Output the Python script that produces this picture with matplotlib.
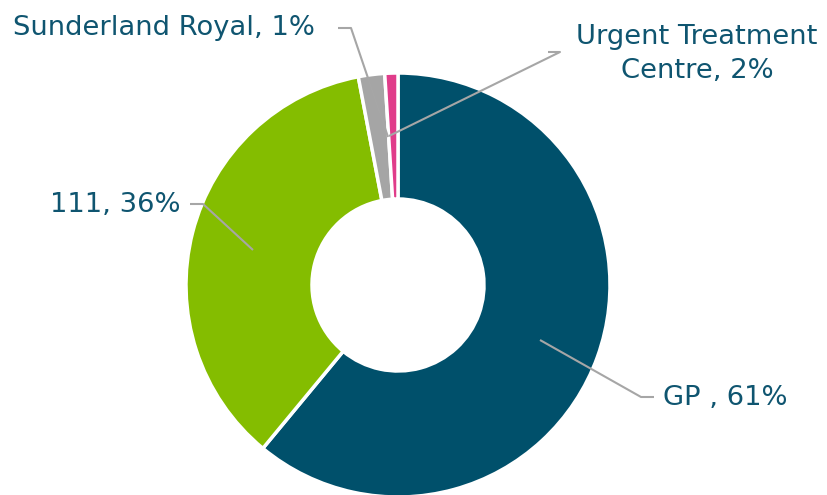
import matplotlib
matplotlib.use('Agg')
import matplotlib.pyplot as plt

labels = ['GP ', '111', 'Urgent Treatment\nCentre', 'Sunderland Royal']
values = [61, 36, 2, 1]
colors = ['#00506B', '#84BD00', '#A5A5A5', '#E03C8A']

text_color = '#0F5570'
line_color = '#A6A6A6'

W, H = 828, 495

fig = plt.figure(figsize=(W / 100, H / 100), dpi=100)
ax = fig.add_axes([0, 0, 1, 1])

# donut, centre given in pixel coords (y measured from bottom)
cx, cy, r, r_in = 398, H - 285, 212, 86
ax.pie(values, colors=colors, startangle=90, counterclock=False,
       center=(cx, cy), radius=r, frame=True,
       wedgeprops=dict(width=r - r_in, edgecolor='white', linewidth=2.5))
ax.set_xlim(0, W)
ax.set_ylim(0, H)
ax.set_aspect('equal')
ax.axis('off')


def leader(points):
    xs = [p[0] for p in points]
    ys = [H - p[1] for p in points]
    ax.plot(xs, ys, color=line_color, lw=1.5, solid_capstyle='butt')


fs = 19.7
pct = [f'{v}%' for v in values]

ax.text(663, H - 398, f'{labels[0]}, {pct[0]}', ha='left', va='center',
        fontsize=fs, color=text_color)
leader([(540, 340), (641, 397), (654, 397)])

ax.text(181, H - 205, f'{labels[1]}, {pct[1]}', ha='right', va='center',
        fontsize=fs, color=text_color)
leader([(190, 204), (203, 204), (253, 250)])

ax.text(697, H - 54, f'{labels[2]}, {pct[2]}', ha='center', va='center',
        fontsize=fs, color=text_color, linespacing=1.4, multialignment='center')
leader([(548, 52), (560, 52), (389, 136)])

ax.text(315, H - 28, f'{labels[3]}, {pct[3]}', ha='right', va='center',
        fontsize=fs, color=text_color)
leader([(338, 28), (351, 28), (388, 137)])

fig.savefig('out.png', dpi=100)
